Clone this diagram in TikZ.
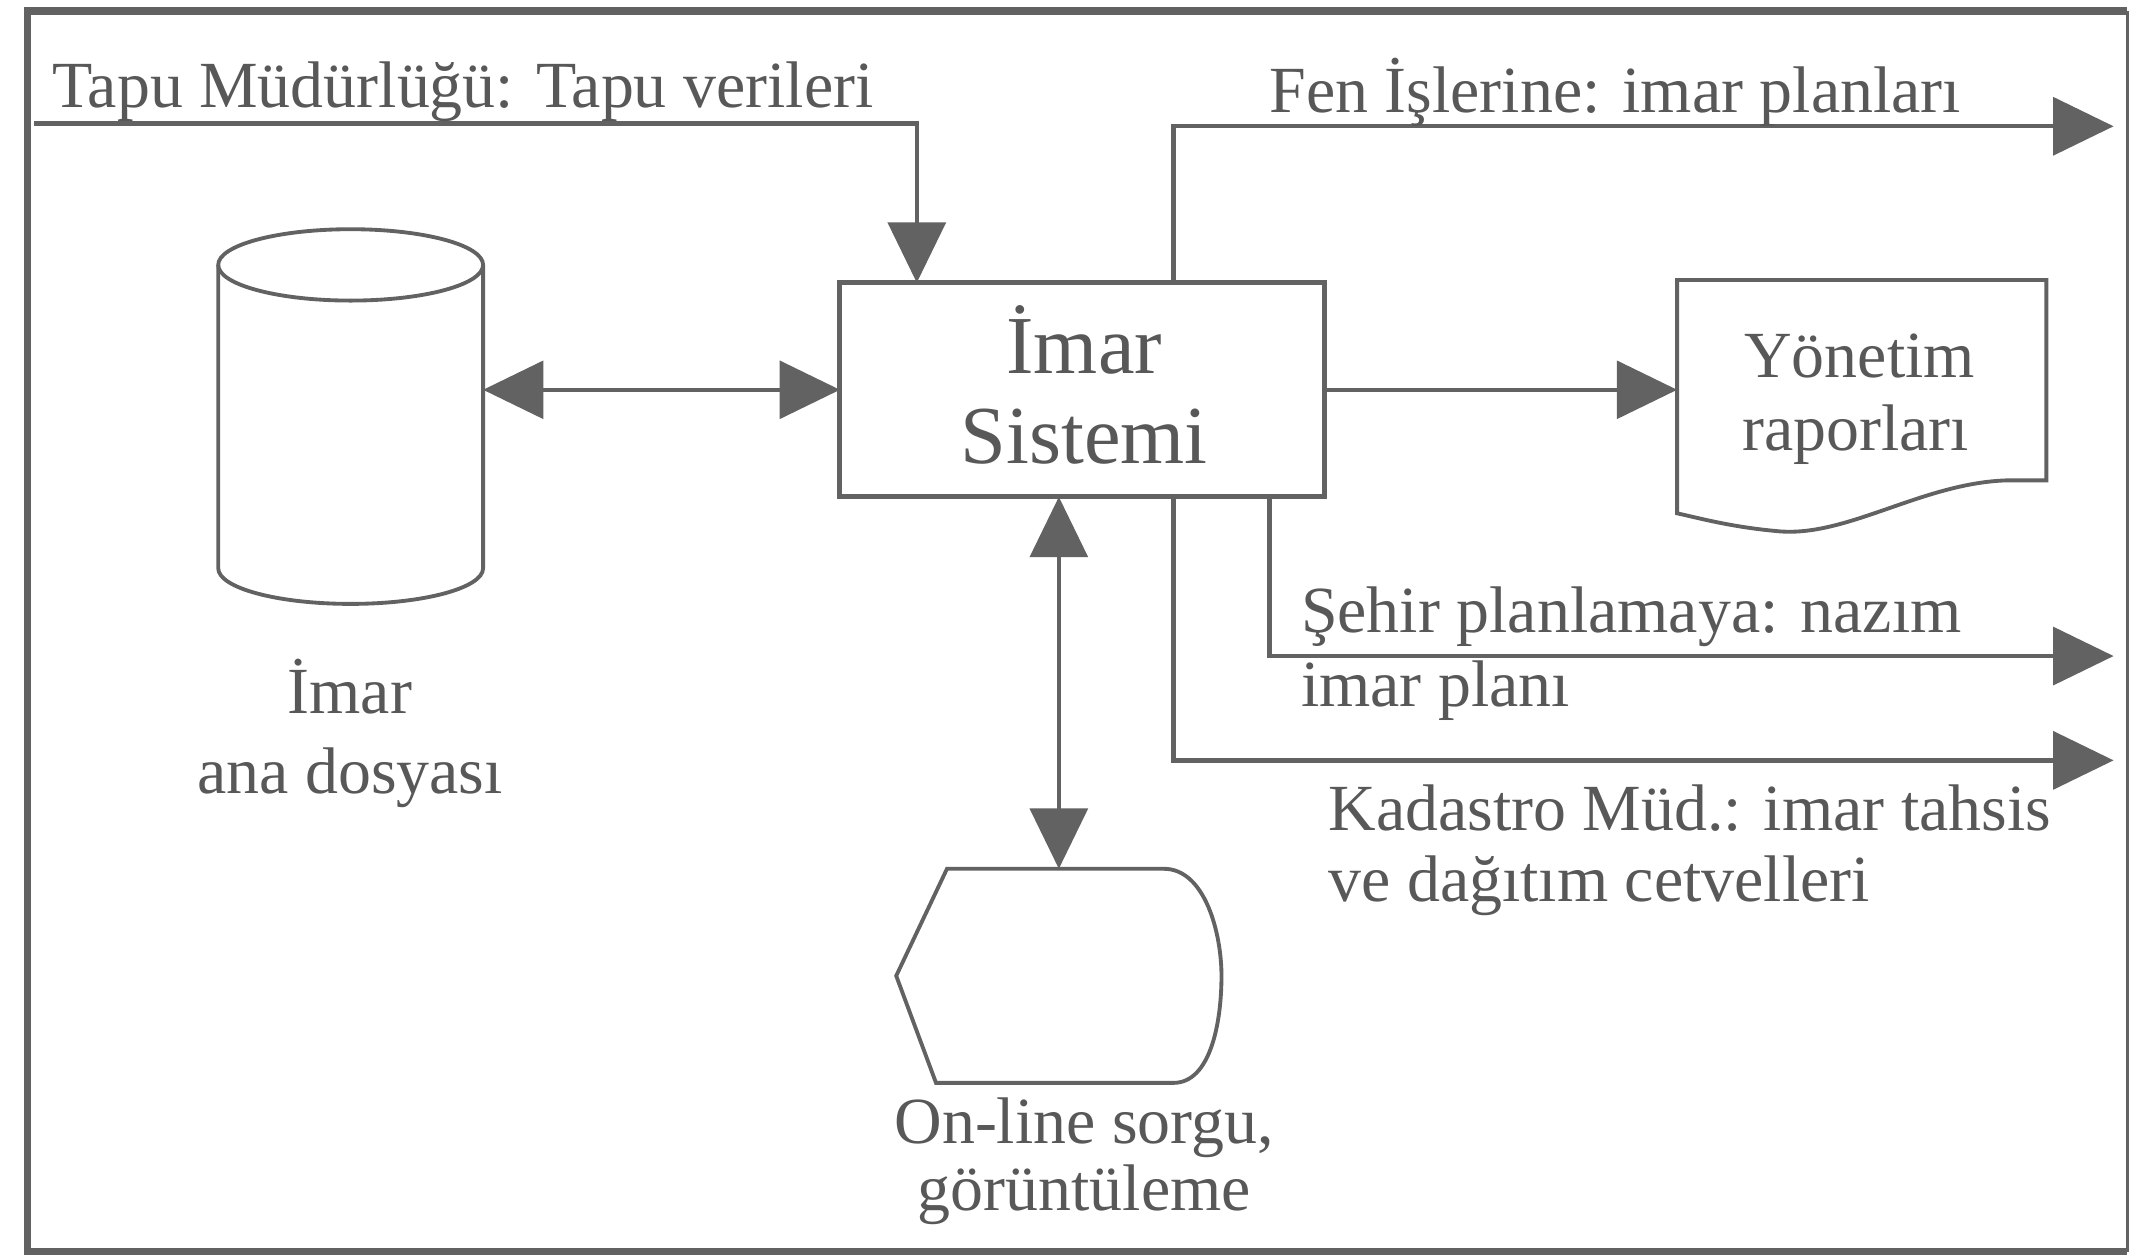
\documentclass[tikz,border=0pt]{standalone}
\usepackage{fontspec}
\setmainfont{Liberation Serif}
\usetikzlibrary{arrows.meta,calc}
\definecolor{ink}{RGB}{88,88,88}
\definecolor{wire}{RGB}{98,98,98}

\begin{document}
\begin{tikzpicture}[x=0.5pt,y=-0.5pt,
  every node/.style={inner sep=0pt, outer sep=0pt},
  conn/.style={draw=wire, line width=1.6pt},
  headend/.style={-{Triangle[length=22pt,width=21pt]}},
  headboth/.style={{Triangle[length=22pt,width=21pt]}-{Triangle[length=22pt,width=21pt]}},
  txt/.style={text=ink, font=\fontsize{24}{28}\selectfont, anchor=base west},
  ctxt/.style={text=ink, font=\fontsize{24}{28}\selectfont, anchor=base},
  bigtxt/.style={text=ink, font=\fontsize{30}{36}\selectfont, anchor=base},
  outline/.style={draw=wire, line width=1.4pt},
  holder/.style 2 args={minimum width=#1, minimum height=#2}
]
\useasboundingbox (0,0) rectangle (1568,918);
\fill[white] (0,0) rectangle (1568,918);

% outer frame
\draw[draw=wire, line width=2.6pt] (1550,8) -- (20,8) -- (20,912) -- (1550,912);
\draw[draw=wire, line width=1pt] (1550,8) -- (1550,912);

% central process box
\node[draw=wire, line width=1.8pt, holder={176.5pt}{78pt}] (sys) at (788.5,284) {};
\node[bigtxt] (sysa) at (790,272) {İmar};
\node[bigtxt] (sysb) at (790,338) {Sistemi};

% master file (cylinder)
\node[holder={96.5pt}{136.5pt}] (db) at (255.5,303.5) {};
\draw[outline] (255.5,193) ellipse [x radius=96.5, y radius=26];
\draw[outline] (159,193) -- (159,414) arc [start angle=180, end angle=0, x radius=96.5, y radius=26] -- (352,193);
\node[ctxt] (dba) at (255,520) {İmar};
\node[ctxt] (dbb) at (255,578) {ana dosyası};

% report document
\node[holder={134.5pt}{91.5pt}] (doc) at (1356.5,295.5) {};
\draw[outline] (1222,374) -- (1222,204) -- (1491,204) -- (1491,350) -- (1462,350)
  .. controls (1400,352) and (1345,392) .. (1295,387)
  .. controls (1262,384) and (1240,378) .. (1222,374) -- cycle;
\node[ctxt] (doca) at (1355,275) {Yönetim};
\node[ctxt] (docb) at (1352,328) {raporları};

% display terminal
\node[holder={118.5pt}{78pt}] (disp) at (771.5,711) {};
\draw[outline] (690,633) -- (848,633) .. controls (878,633) and (890,680) .. (890,711)
  .. controls (890,745) and (882,789) .. (855,789) -- (682,789) -- (653,711) -- cycle;
\node[ctxt] (dispa) at (790,833) {On-line sorgu,};
\node[ctxt] (dispb) at (790,882) {görüntüleme};

% flows
\coordinate (tapuin) at (25,90);
\draw[conn,headend] (tapuin) -| ([xshift=-60.25pt]sys.north);
\node[txt] (tapu) at (38,78) {Tapu Müdürlüğü: Tapu verileri};

\coordinate (fenout) at (1540,92);
\draw[conn,headend] ([xshift=33.25pt]sys.north) |- (fenout);
\node[txt] (fen) at (925,82) {Fen İşlerine: imar planları};

\draw[conn,headboth] (db.east |- sys.west) -- (sys.west);
\draw[conn,headend] (sys.east) -- (sys.east -| doc.west);

\coordinate (sehirout) at (1540,478);
\draw[conn,headend] ([xshift=68.25pt]sys.south) |- (sehirout);
\node[txt] (sehira) at (948,461) {Şehir planlamaya: nazım};
\node[txt] (sehirb) at (948,515) {imar planı};

\coordinate (kadout) at (1540,554);
\draw[conn,headend] ([xshift=33.25pt]sys.south) |- (kadout);
\node[txt] (kada) at (968,605) {Kadastro Müd.: imar tahsis};
\node[txt] (kadb) at (968,657) {ve dağıtım cetvelleri};

\draw[conn,headboth] (disp.north |- sys.south) -- (disp.north);
\end{tikzpicture}
\end{document}
